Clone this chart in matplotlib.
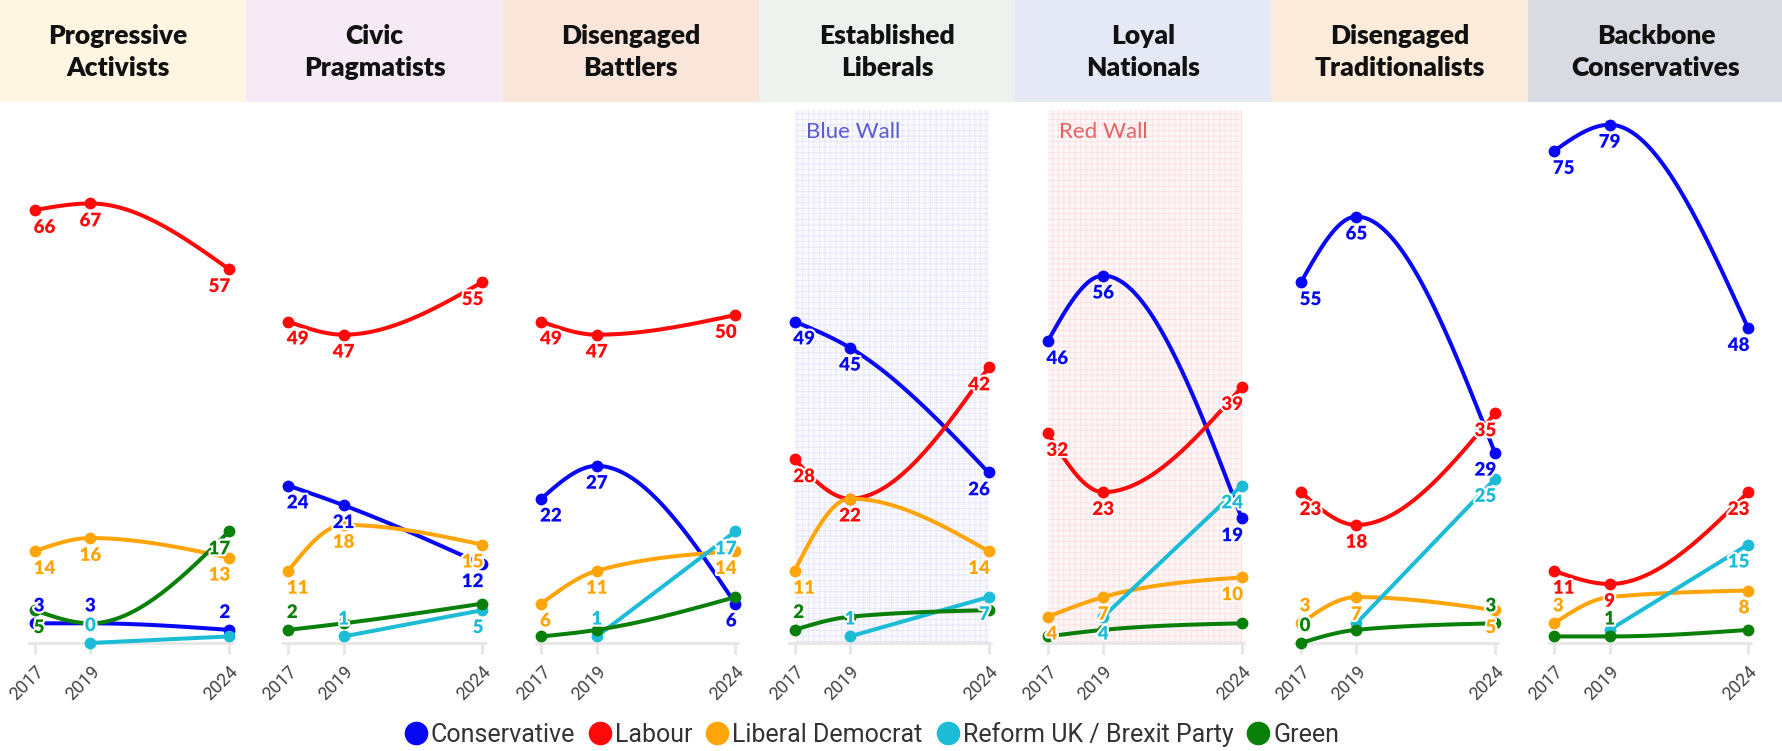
import numpy as np
import matplotlib
matplotlib.use("Agg")
import matplotlib.pyplot as plt
from matplotlib.patches import Rectangle
from matplotlib.lines import Line2D
import matplotlib.patheffects as pe

plt.rcParams['font.family'] = ['Lato', 'DejaVu Sans']
plt.rcParams['hatch.linewidth'] = 0.5

# ---------------- data ----------------
years = [2017, 2019, 2024]
segments = ["Progressive\nActivists", "Civic\nPragmatists", "Disengaged\nBattlers",
            "Established\nLiberals", "Loyal\nNationals", "Disengaged\nTraditionalists",
            "Backbone\nConservatives"]
parties = ["Conservative", "Labour", "Liberal Democrat", "Reform UK / Brexit Party", "Green"]

conservative = [[3, 3, 2], [24, 21, 12], [22, 27, 6], [49, 45, 26], [46, 56, 19], [55, 65, 29], [75, 79, 48]]
labour = [[66, 67, 57], [49, 47, 55], [49, 47, 50], [28, 22, 42], [32, 23, 39], [23, 18, 35], [11, 9, 23]]
libdem = [[14, 16, 13], [11, 18, 15], [6, 11, 14], [11, 22, 14], [4, 7, 10], [3, 7, 5], [3, 7, 8]]
reform = [[None, 0, 1], [None, 1, 5], [None, 1, 17], [None, 1, 7], [None, 4, 24], [None, 3, 25], [None, 2, 15]]
green = [[5, 3, 17], [2, 3, 6], [1, 2, 7], [2, 4, 5], [1, 2, 3], [0, 2, 3], [1, 1, 2]]

walls = {3: "Blue Wall", 4: "Red Wall"}

# ---------------- style ----------------
party_colors = ["#0808f5", "#ff0a0a", "#ffa50a", "#1cbcd6", "#0a800a"]
header_colors = ["#fef5e3", "#f6eaf6", "#fae5da", "#edf2ef", "#e5e8f5", "#fbebda", "#dadae2"]
wall_style = {"Blue Wall": dict(bg="#f8f8fd", grid="#e2e2f6", text="#5a5ad2"),
              "Red Wall": dict(bg="#fef6f6", grid="#f9dcdc", text="#e06464")}
# label placement per panel, per party, per year: a=above, b=below, .=hidden
label_pos = [
    ["aaa", "bbb", "bbb", ".a.", "b.b"],
    ["bbb", "bbb", "bbb", ".ab", "a.."],
    ["bbb", "bbb", "bbb", ".ab", "..."],
    ["bbb", "bbb", "b.b", ".ab", "a.."],
    ["bbb", "bbb", "bbb", ".bb", "..."],
    ["bbb", "bbb", "abb", "..b", "a.a"],
    ["bbb", "bbb", "a.b", "..b", ".a."],
]

W, H = 1783, 751
fig = plt.figure(figsize=(W / 100, H / 100), dpi=100)


def monotone_x(xs, ys, n=60):
    xs = list(map(float, xs)); ys = list(map(float, ys))
    if len(xs) == 2:
        return np.array(xs), np.array(ys)
    x0, x1, x2 = xs; y0, y1, y2 = ys
    h0, h1 = x1 - x0, x2 - x1
    s0, s1 = (y1 - y0) / h0, (y2 - y1) / h1
    p = (s0 * h1 + s1 * h0) / (h0 + h1)
    t1 = (np.sign(s0) + np.sign(s1)) * min(abs(s0), abs(s1), 0.5 * abs(p))
    t0 = (3 * s0 - t1) / 2
    t2 = (3 * s1 - t1) / 2
    out_x, out_y = [], []
    for (xa, ya, ta, xb, yb, tb) in [(x0, y0, t0, x1, y1, t1), (x1, y1, t1, x2, y2, t2)]:
        dx = (xb - xa) / 3
        P = np.array([[xa, ya], [xa + dx, ya + dx * ta], [xb - dx, yb - dx * tb], [xb, yb]])
        u = np.linspace(0, 1, n)[:, None]
        B = ((1 - u) ** 3) * P[0] + 3 * ((1 - u) ** 2) * u * P[1] + 3 * (1 - u) * u ** 2 * P[2] + u ** 3 * P[3]
        out_x.extend(B[:, 0]); out_y.extend(B[:, 1])
    return np.array(out_x), np.array(out_y)


# headers
hp = 256.3
for k, name in enumerate(segments):
    x0 = (-10 + hp * k) / W
    fig.patches.append(Rectangle((x0, 1 - 102 / H), hp / W, 102 / H, transform=fig.transFigure,
                                 facecolor=header_colors[k], edgecolor='none', zorder=0))
    fig.text((-10 + hp * k + hp / 2) / W, 1 - 52 / H, name, ha='center', va='center',
             fontsize=19, fontweight='heavy', color='#111111', linespacing=1.35)

# axes geometry
px_year = 27.7
first2017 = 35.0
period = 253.2
left_pad, right_pad = 30, 25
y0px, px_unit = 643.0, 6.56
top_px, bot_px = 104, 668

series_all = [conservative, labour, libdem, reform, green]

for k in range(len(segments)):
    x2017 = first2017 + period * k
    lpx = x2017 - left_pad
    wpx = left_pad + 7 * px_year + right_pad
    ax = fig.add_axes([lpx / W, 1 - bot_px / H, wpx / W, (bot_px - top_px) / H])
    ax.set_xlim(years[0] - left_pad / px_year, years[-1] + right_pad / px_year)
    ax.set_ylim((y0px - bot_px) / px_unit, (y0px - top_px) / px_unit)
    ax.patch.set_alpha(0)
    for s in ['top', 'right', 'left']:
        ax.spines[s].set_visible(False)
    ax.spines['bottom'].set_position(('data', 0))
    ax.spines['bottom'].set_bounds(years[0] - 0.2, years[-1] + 0.1)
    ax.spines['bottom'].set_color('#e6e6e6')
    ax.spines['bottom'].set_linewidth(2)
    ax.spines['bottom'].set_zorder(0.5)
    ax.set_yticks([])
    ax.set_xticks(years)
    ax.set_xticklabels([str(y) for y in years], rotation=45, ha='right', rotation_mode='anchor',
                       fontsize=13, color='#444444', family=['Roboto', 'DejaVu Sans'])
    ax.tick_params(axis='x', length=8, width=2, color='#e6e6e6', pad=6)

    if k in walls:
        st = wall_style[walls[k]]
        top_val = (y0px - 110) / px_unit
        ax.add_patch(Rectangle((years[0], 0), years[-1] - years[0], top_val, facecolor=st['bg'],
                               edgecolor=st['grid'], hatch='+++', linewidth=0, zorder=0.2))
        ax.text(years[0] + 0.42, top_val - 3.3, walls[k], color=st['text'], fontsize=16,
                ha='left', va='center', zorder=1)

    for j, ser in enumerate(series_all):
        vals = ser[k]
        xs = [y for y, v in zip(years, vals) if v is not None]
        ys = [v for v in vals if v is not None]
        cx, cy = monotone_x(xs, ys)
        c = party_colors[j]
        ax.plot(cx, cy, color=c, lw=2.9, solid_capstyle='round', zorder=2 + j * 0.1, clip_on=False)
        ax.plot(xs, ys, 'o', color=c, markersize=7.5, zorder=2.05 + j * 0.1, clip_on=False)

    for j, ser in enumerate(series_all):
        vals = ser[k]
        c = party_colors[j]
        for i, (yr, v) in enumerate(zip(years, vals)):
            if v is None:
                continue
            pos = label_pos[k][j][i]
            if pos == '.':
                continue
            dy = 12.5 if pos == 'a' else -12.5
            if i == 0:
                ha, dx = 'left', -1
            elif i == len(years) - 1:
                ha, dx = 'right', 1
            else:
                ha, dx = 'center', 0
            ax.annotate(str(v), (yr, v), xytext=(dx, dy), textcoords='offset points',
                        ha=ha, va='center', fontsize=13.5, fontweight='heavy', color=c,
                        zorder=5, annotation_clip=False,
                        path_effects=[pe.withStroke(linewidth=3, foreground='white')])

handles = [Line2D([0], [0], marker='o', linestyle='none', markersize=16,
                  markerfacecolor=c, markeredgecolor=c) for c in party_colors]
leg = fig.legend(handles, parties, loc='center', bbox_to_anchor=(0.489, 0.022), ncol=5,
                 frameon=False, handlelength=0.9, handletextpad=0.15, columnspacing=0.55,
                 prop={'family': ['Roboto', 'DejaVu Sans'], 'size': 18}, labelcolor='#333333',
                 borderpad=0, borderaxespad=0)

fig.savefig("out.png", dpi=100, facecolor='white')
